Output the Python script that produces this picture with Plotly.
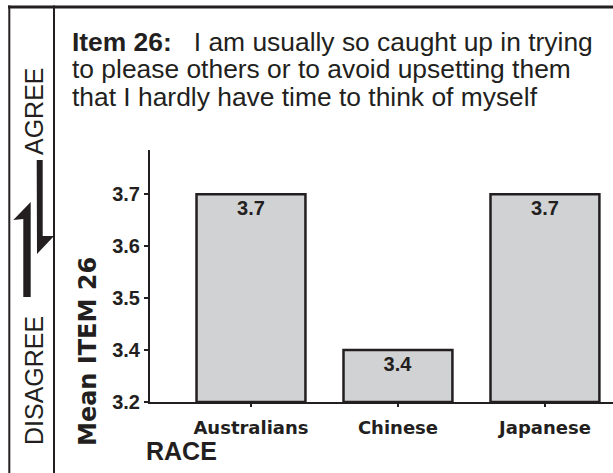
import plotly.graph_objects as go

# ---- data ----
categories = ["Australians", "Chinese", "Japanese"]
means = [3.7, 3.4, 3.7]
bar_labels = ["3.7", "3.4", "3.7"]

# y axis is broken below 3.4: the baseline sits one step under 3.4 but is labelled 3.2
axis_floor = 3.3
axis_top = 3.785
tick_values = [3.3, 3.4, 3.5, 3.6, 3.7]
tick_labels = ["3.2", "3.4", "3.5", "3.6", "3.7"]

title_lines = [
    "<b>Item 26:</b>   I am usually so caught up in trying",
    "to please others or to avoid upsetting them",
    "that I hardly have time to think of myself",
]

INK = "#231f20"
W, H = 613, 473
# plot area in pixels
L, R, T, B = 150, 613, 150, 402


def px(x):
    return (x - L) / (R - L)


def py(y):
    return (B - y) / (B - T)


fig = go.Figure()
fig.add_trace(go.Bar(
    x=categories,
    y=[m - axis_floor for m in means],
    base=axis_floor,
    width=0.741,
    marker=dict(color="#d1d2d4", line=dict(color=INK, width=2.5)),
    text=bar_labels,
    textposition="inside",
    insidetextanchor="end",
    textangle=0,
    constraintext="none",
    textfont=dict(family="Liberation Sans", size=20, weight="bold", color=INK),
    hoverinfo="skip",
))

shapes = []
# outer frame (top and left) and the separator of the left panel
shapes.append(dict(type="line", xref="paper", yref="paper",
                   x0=px(8), x1=px(613), y0=py(7), y1=py(7),
                   line=dict(color=INK, width=3)))
shapes.append(dict(type="line", xref="paper", yref="paper",
                   x0=px(9.3), x1=px(9.3), y0=py(5.5), y1=py(473),
                   line=dict(color=INK, width=2)))
shapes.append(dict(type="line", xref="paper", yref="paper",
                   x0=px(54), x1=px(54), y0=py(5.5), y1=py(473),
                   line=dict(color=INK, width=2)))


def path(points):
    return "M " + " L ".join(f"{px(x):.5f},{py(y):.5f}" for x, y in points) + " Z"


# half-headed arrows: down (right) and up (left)
shapes.append(dict(type="path", xref="paper", yref="paper",
                   path=path([(36.7, 160), (42.7, 160), (42.7, 236), (54, 236), (37, 254)]),
                   fillcolor=INK, line=dict(width=0)))
shapes.append(dict(type="path", xref="paper", yref="paper",
                   path=path([(30.7, 297), (30.7, 202), (13.3, 220), (23.3, 219), (23.3, 297)]),
                   fillcolor=INK, line=dict(width=0)))

annotations = []
for i, line in enumerate(title_lines):
    annotations.append(dict(
        text=line, xref="paper", yref="paper", x=px(70), y=py(41.5 + 27.6 * i),
        xanchor="left", yanchor="middle", showarrow=False,
        font=dict(family="Liberation Sans", size=26.4, color=INK)))

annotations.append(dict(
    text="AGREE", xref="paper", yref="paper", x=px(34), y=py(111),
    xanchor="center", yanchor="middle", showarrow=False, textangle=-90,
    font=dict(family="Liberation Sans", size=25, color=INK)))
annotations.append(dict(
    text="DISAGREE", xref="paper", yref="paper", x=px(34), y=py(381),
    xanchor="center", yanchor="middle", showarrow=False, textangle=-90,
    font=dict(family="Liberation Sans", size=25, color=INK)))
annotations.append(dict(
    text="Mean ITEM 26", xref="paper", yref="paper", x=px(88), y=py(352),
    xanchor="center", yanchor="middle", showarrow=False, textangle=-90,
    font=dict(family="DejaVu Sans", size=24, weight="bold", color=INK)))
annotations.append(dict(
    text="RACE", xref="paper", yref="paper", x=px(181), y=py(450.5),
    xanchor="center", yanchor="middle", showarrow=False,
    font=dict(family="Liberation Sans", size=25, weight="bold", color=INK)))

fig.update_layout(
    width=W, height=H,
    margin=dict(l=L, r=W - R, t=T, b=H - B, pad=0),
    paper_bgcolor="white", plot_bgcolor="white",
    showlegend=False,
    shapes=shapes,
    annotations=annotations,
    xaxis=dict(
        range=[-0.687, 2.463], showgrid=False, zeroline=False,
        showline=True, linecolor=INK, linewidth=2,
        ticks="outside", ticklen=3, tickwidth=2, tickcolor=INK,
        ticklabelstandoff=5,
        tickfont=dict(family="DejaVu Sans", size=18, weight="bold", color=INK),
        fixedrange=True,
    ),
    yaxis=dict(
        range=[axis_floor, axis_top], showgrid=False, zeroline=False,
        showline=True, linecolor=INK, linewidth=2,
        tickvals=tick_values, ticktext=tick_labels,
        ticks="outside", ticklen=4, tickwidth=1.5, tickcolor=INK,
        tickfont=dict(family="Liberation Sans", size=20, weight="bold", color=INK),
        fixedrange=True,
    ),
)

fig.write_html("out.html", config={"displayModeBar": False})
